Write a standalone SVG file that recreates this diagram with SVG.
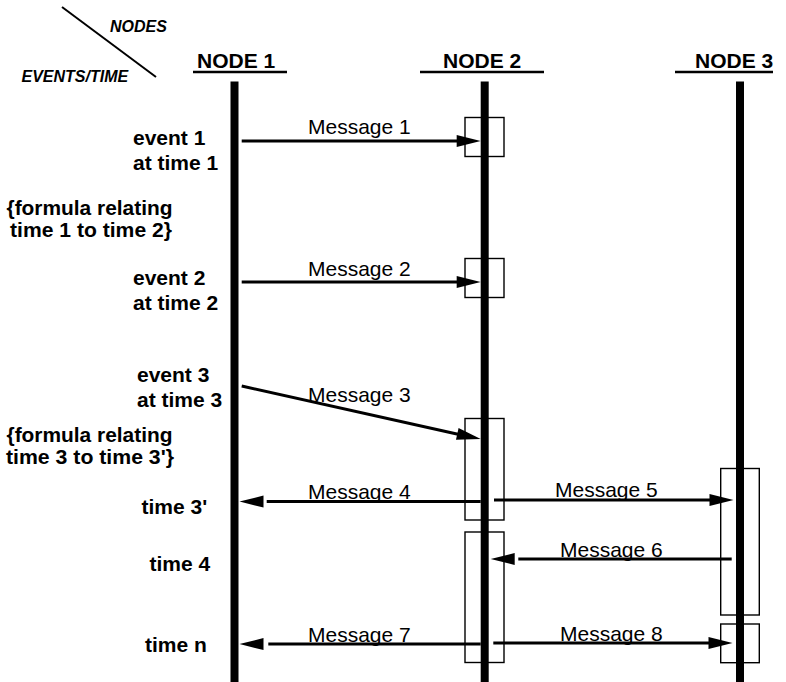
<svg xmlns="http://www.w3.org/2000/svg" width="786" height="682" viewBox="0 0 786 682">
<style>
text{font-family:"Liberation Sans",Arial,sans-serif;fill:#000}
.hdr{font-size:21px;font-weight:bold}
.lbl{font-size:21px;font-weight:bold}
.frm{font-size:20px;font-weight:bold}
.msg{font-size:21px}
.corner{font-size:16px;font-weight:bold;font-style:italic}
.under{stroke:#000;stroke-width:2.5}
.life{stroke:#000;stroke-width:8}
.box{fill:#fff;stroke:#000;stroke-width:1.4}
.conn{stroke:#000;stroke-width:3;fill:none}
.head{fill:#000}
</style>
<defs>
<path id="ah" d="M0,0 L-24,-6 L-24,6 Z"/>
</defs>
<rect width="786" height="682" fill="#fff"/>
<g id="corner-header">
<line x1="62" y1="7" x2="156" y2="77" stroke="#000" stroke-width="2"/>
<text class="corner" x="110" y="31.5">NODES</text>
<text class="corner" x="21.5" y="81.5">EVENTS/TIME</text>
</g>
<g id="node1">
<text class="hdr" x="197" y="67.5">NODE 1</text>
<line class="under" x1="193" y1="72" x2="287" y2="72"/>
<line class="life" x1="234.5" y1="81.5" x2="234.5" y2="682"/>
</g>
<g id="node2">
<text class="hdr" x="443" y="67.5">NODE 2</text>
<line class="under" x1="420" y1="72" x2="544" y2="72"/>
<rect class="box" x="465" y="117.5" width="39" height="39"/>
<rect class="box" x="465" y="258.5" width="39" height="39"/>
<rect class="box" x="465" y="418.5" width="39" height="101.5"/>
<rect class="box" x="465" y="532" width="39" height="130.5"/>
<line class="life" x1="484.7" y1="81.5" x2="484.7" y2="682"/>
</g>
<g id="node3">
<text class="hdr" x="695" y="67.5">NODE 3</text>
<line class="under" x1="675" y1="72" x2="773" y2="72"/>
<rect class="box" x="720.7" y="468.5" width="38.6" height="146.5"/>
<rect class="box" x="720.7" y="624" width="38.6" height="38.7"/>
<line class="life" x1="740" y1="81.5" x2="740" y2="682"/>
</g>
<g id="time-labels">
<text class="lbl" x="133" y="145">event 1</text>
<text class="lbl" x="133" y="170">at time 1</text>
<text class="frm" x="6.5" y="215" textLength="166" lengthAdjust="spacingAndGlyphs">{formula relating</text>
<text class="frm" x="10" y="237" textLength="162" lengthAdjust="spacingAndGlyphs">time 1 to time 2}</text>
<text class="lbl" x="133" y="285">event 2</text>
<text class="lbl" x="133" y="310">at time 2</text>
<text class="lbl" x="137" y="381.5">event 3</text>
<text class="lbl" x="137" y="406.5">at time 3</text>
<text class="frm" x="6.5" y="442" textLength="166" lengthAdjust="spacingAndGlyphs">{formula relating</text>
<text class="frm" x="6" y="464" textLength="168" lengthAdjust="spacingAndGlyphs">time 3 to time 3'}</text>
<text class="lbl" x="141.5" y="514">time 3'</text>
<text class="lbl" x="149.5" y="571">time 4</text>
<text class="lbl" x="145" y="651.5">time n</text>
</g>
<g id="connectors">
<line class="conn" x1="241.7" y1="141" x2="458" y2="141"/>
<use href="#ah" class="head" transform="translate(480.7,141)"/>
<text class="msg" x="308" y="134">Message 1</text>

<line class="conn" x1="241.7" y1="282" x2="458" y2="282"/>
<use href="#ah" class="head" transform="translate(480.7,282)"/>
<text class="msg" x="308" y="276">Message 2</text>

<line class="conn" x1="241.7" y1="386" x2="458" y2="434.2"/>
<use href="#ah" class="head" transform="translate(480.7,439) rotate(12.54)"/>
<text class="msg" x="308" y="401.5">Message 3</text>

<line class="conn" x1="266.7" y1="501.5" x2="480.7" y2="501.5"/>
<use href="#ah" class="head" transform="translate(239.5,501.5) rotate(180)"/>
<text class="msg" x="308" y="499">Message 4</text>

<line class="conn" x1="494" y1="500" x2="711" y2="500"/>
<use href="#ah" class="head" transform="translate(733.5,500)"/>
<text class="msg" x="555" y="497">Message 5</text>

<line class="conn" x1="518.3" y1="559" x2="731.7" y2="559"/>
<use href="#ah" class="head" transform="translate(490.7,559) rotate(180)"/>
<text class="msg" x="560" y="557">Message 6</text>

<line class="conn" x1="268.3" y1="644" x2="480.7" y2="644"/>
<use href="#ah" class="head" transform="translate(239.5,644) rotate(180)"/>
<text class="msg" x="308" y="641.5">Message 7</text>

<line class="conn" x1="493.3" y1="643" x2="710" y2="643"/>
<use href="#ah" class="head" transform="translate(732.5,643)"/>
<text class="msg" x="560" y="641">Message 8</text>
</g>
</svg>
